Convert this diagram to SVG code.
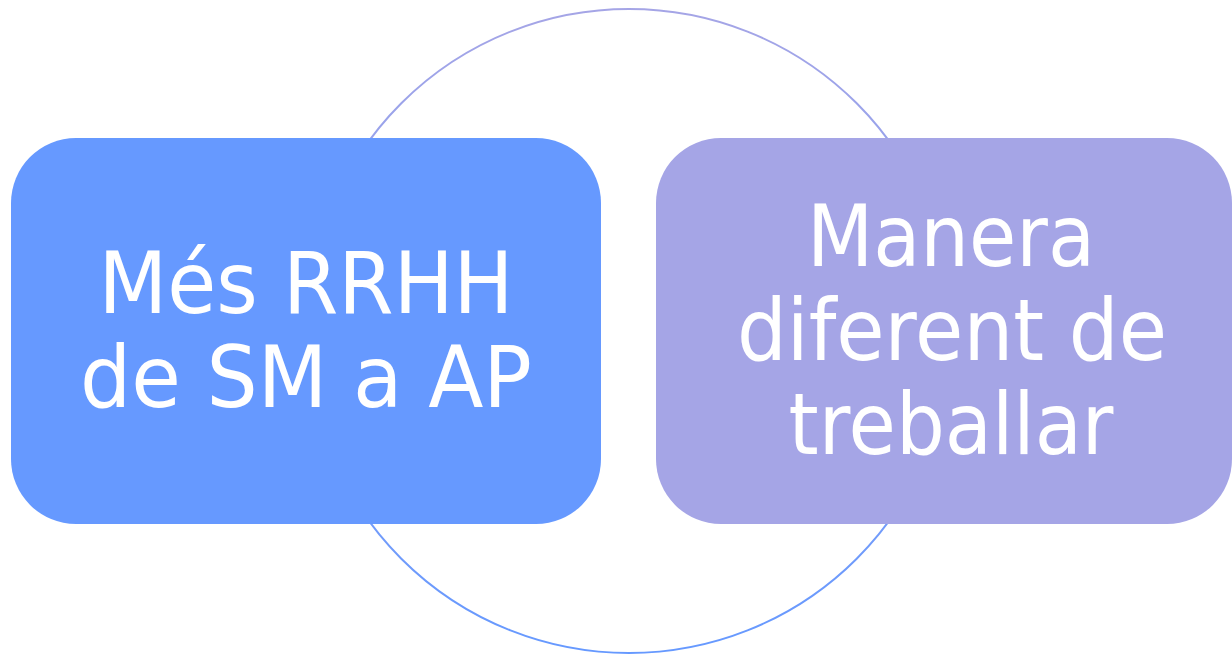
<svg xmlns="http://www.w3.org/2000/svg" width="1232" height="655" viewBox="0 0 1232 655">
<defs>
<linearGradient id="ring" x1="0" y1="0" x2="0" y2="1">
<stop offset="0" stop-color="#a5a5e6"/>
<stop offset="1" stop-color="#6699ff"/>
</linearGradient>
<style>
.lbl{font-family:"DejaVu Sans",Verdana,sans-serif;font-size:85px;fill:#ffffff;text-anchor:middle}
</style>
</defs>
<g id="connectors">
<circle cx="629" cy="331" r="322" fill="none" stroke="url(#ring)" stroke-width="2"/>
</g>
<g id="node-left">
<rect x="11" y="138" width="590" height="386" rx="65" fill="#6699ff"/>
<text class="lbl" x="306" y="313" textLength="415" lengthAdjust="spacingAndGlyphs">Més RRHH</text>
<text class="lbl" x="306" y="407" textLength="452" lengthAdjust="spacingAndGlyphs">de SM a AP</text>
</g>
<g id="node-right">
<rect x="656" y="138" width="576" height="386" rx="65" fill="#a5a5e6"/>
<text class="lbl" x="951" y="266" textLength="288" lengthAdjust="spacingAndGlyphs">Manera</text>
<text class="lbl" x="952" y="360" textLength="430" lengthAdjust="spacingAndGlyphs">diferent de</text>
<text class="lbl" x="951" y="454" textLength="325" lengthAdjust="spacingAndGlyphs">treballar</text>
</g>
</svg>
